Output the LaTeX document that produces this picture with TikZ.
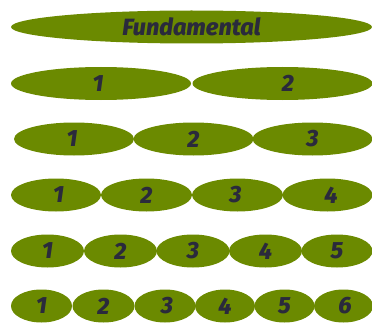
\documentclass[tikz,border=0pt]{standalone}
\usepackage{fontspec}
\setmainfont{Fira Sans}[BoldItalicFont=Fira Sans ExtraBold Italic]
\usetikzlibrary{shapes.geometric}
\definecolor{leaf}{HTML}{6B8A00}
\definecolor{ink}{HTML}{2A2A3C}
\tikzset{
  pod/.style={ellipse, fill=leaf, inner sep=0pt, minimum height=33pt,
    font=\fontsize{23.5}{23.5}\selectfont\bfseries\itshape, text=ink},
}
\begin{document}
\begin{tikzpicture}[x=1pt,y=1pt]
\useasboundingbox (0,0) rectangle (372,322);
% row 1
\node[pod, minimum width=361pt] (f) at (191.5,295) {Fundamental};
% row 2
\node[pod, minimum width=180pt] (a1) at (101,238.5) {1\hspace*{6pt}};
\node[pod, minimum width=180pt] (a2) at (282.5,238.5) {\hspace*{11pt}2};
% row 3
\node[pod, minimum width=120pt] (b1) at (74,183) {1\hspace*{4pt}};
\node[pod, minimum width=120pt] (b2) at (193.5,183) {2};
\node[pod, minimum width=120pt] (b3) at (312.5,183) {3};
% row 4
\node[pod, minimum width=90pt] (c1) at (56,127) {\hspace*{5pt}1};
\node[pod, minimum width=91pt] (c2) at (146.5,127) {2};
\node[pod, minimum width=91pt] (c3) at (237.5,127) {3\hspace*{4pt}};
\node[pod, minimum width=90pt] (c4) at (327.5,127) {\hspace*{7pt}4};
% row 5
\node[pod, minimum width=73pt] (d1) at (47.5,71) {1};
\node[pod, minimum width=73pt] (d2) at (120.5,71) {2};
\node[pod, minimum width=73pt] (d3) at (193,71) {3};
\node[pod, minimum width=73pt] (d4) at (265.5,71) {4};
\node[pod, minimum width=71pt] (d5) at (337,71) {5};
% row 6
\node[pod, minimum width=61pt] (e1) at (41.5,16) {1};
\node[pod, minimum width=62pt] (e2) at (103.5,16) {2};
\node[pod, minimum width=61pt] (e3) at (165,16) {\hspace*{4pt}3};
\node[pod, minimum width=60pt] (e4) at (225,16) {4};
\node[pod, minimum width=60pt] (e5) at (284.5,16) {5};
\node[pod, minimum width=59pt] (e6) at (343.5,16) {\hspace*{3pt}6};
\end{tikzpicture}
\end{document}
